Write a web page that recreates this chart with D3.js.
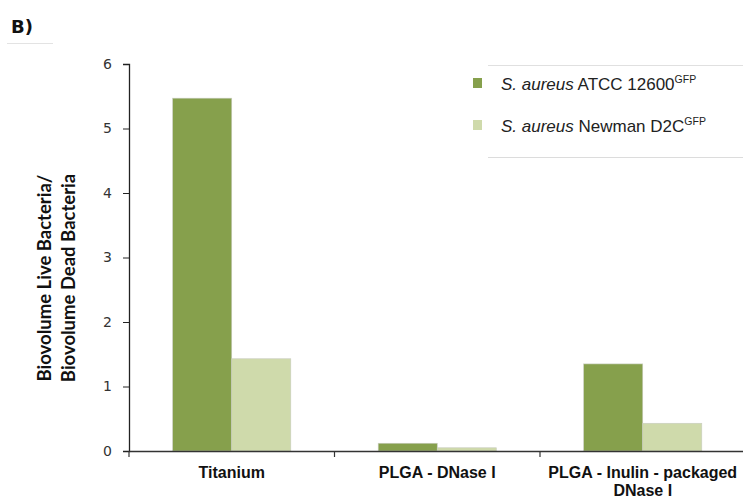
<!DOCTYPE html>
<html>
<head>
<meta charset="utf-8">
<script src="https://cdn.jsdelivr.net/npm/d3@7/dist/d3.min.js"></script>
<style>
  html, body { margin: 0; padding: 0; background: #fff; }
  svg { display: block; }
</style>
</head>
<body>
<svg id="chart" width="743" height="502"></svg>
<script>
// Biofilm live/dead biovolume ratio per surface, two S. aureus strains
const categories = ["Titanium", "PLGA - DNase I", "PLGA - Inulin - packaged DNase I"];
const categoryLines = [["Titanium"], ["PLGA - DNase I"], ["PLGA - Inulin - packaged", "DNase I"]];
const seriesKeys = ["atcc", "newman"];
const atccValues = [5.47, 0.12, 1.35];
const newmanValues = [1.43, 0.05, 0.43];
const yTicks = [0, 1, 2, 3, 4, 5, 6];

const colors = { atcc: "#86a04c", newman: "#cfdaab" };

const svg = d3.select("#chart");

const x = d3.scaleBand().domain(categories).range([129, 745.5]).paddingInner(0).paddingOuter(0);
const xs = d3.scaleBand().domain(seriesKeys).range([0, x.bandwidth()]).paddingInner(0).paddingOuter(0.74);
const y = d3.scaleLinear().domain([0, 6]).range([451, 64]);

const rows = categories.map((c, i) => ({ cat: c, atcc: atccValues[i], newman: newmanValues[i] }));

// panel label
svg.append("line").attr("x1", 7).attr("x2", 53).attr("y1", 43.5).attr("y2", 43.5)
  .attr("stroke", "#e3e3e3").attr("stroke-width", 1);
svg.append("text").attr("x", 11).attr("y", 33)
  .style("font-family", "DejaVu Sans, Verdana, sans-serif").style("font-weight", "bold")
  .style("font-size", "18px").attr("fill", "#111").text("B)");

// bars
const groups = svg.append("g").selectAll("g").data(rows).join("g")
  .attr("transform", d => `translate(${x(d.cat)},0)`);
groups.selectAll("rect").data(d => seriesKeys.map(k => ({ key: k, value: d[k] }))).join("rect")
  .attr("x", d => xs(d.key))
  .attr("width", xs.bandwidth())
  .attr("y", d => y(d.value))
  .attr("height", d => y(0) - y(d.value))
  .attr("fill", d => colors[d.key])
  .attr("stroke", "#c8ccbf").attr("stroke-width", 0.6);

// y axis
const yAxis = svg.append("g").attr("transform", "translate(129,0)")
  .call(d3.axisLeft(y).tickValues(yTicks).tickFormat(d3.format("d")).tickSize(6).tickPadding(11));
yAxis.select(".domain").attr("stroke", "#222").attr("stroke-width", 1.3);
yAxis.selectAll(".tick line").attr("stroke", "#222");
yAxis.selectAll(".tick text")
  .style("font-family", "DejaVu Sans, Verdana, sans-serif")
  .style("font-size", "14px").attr("fill", "#333");

// x axis: baseline with tick marks at category boundaries
const xAxis = svg.append("g").attr("transform", `translate(0,${y(0)})`)
  .call(d3.axisBottom(x).tickSize(0).tickFormat(""));
xAxis.select(".domain").attr("stroke", "#333").attr("stroke-width", 1.3);
xAxis.selectAll(".tick").remove();
xAxis.selectAll(".bnd").data(categories).join("line").attr("class", "bnd")
  .attr("x1", d => x(d)).attr("x2", d => x(d)).attr("y1", 0).attr("y2", 6)
  .attr("stroke", "#333").attr("stroke-width", 1.2);

// category labels
const lab = svg.append("g").selectAll("text").data(categories).join("text")
  .attr("x", d => x(d) + x.bandwidth() / 2)
  .attr("y", 478)
  .attr("text-anchor", "middle")
  .style("font-family", "Liberation Sans, Arial, sans-serif").style("font-weight", "bold")
  .style("font-size", "16px").attr("fill", "#111");
lab.selectAll("tspan").data((d, i) => categoryLines[i].map((t, j) => ({ t, j, cx: x(d) + x.bandwidth() / 2 })))
  .join("tspan").attr("x", d => d.cx).attr("dy", d => d.j === 0 ? 0 : 18).text(d => d.t);

// y axis title
const yt = svg.append("text").attr("transform", "translate(0,278) rotate(-90)")
  .attr("text-anchor", "middle")
  .style("font-family", "Lato, Carlito, sans-serif").style("font-weight", "bold")
  .style("font-size", "18.5px").attr("fill", "#111");
yt.append("tspan").attr("x", 0).attr("y", 51).text("Biovolume Live Bacteria/");
yt.append("tspan").attr("x", 0).attr("y", 75).text("Biovolume Dead Bacteria");

// legend
const legend = svg.append("g");
legend.append("line").attr("x1", 488).attr("x2", 743).attr("y1", 65.5).attr("y2", 65.5).attr("stroke", "#e0e0e0");
legend.append("line").attr("x1", 488).attr("x2", 743).attr("y1", 157.5).attr("y2", 157.5).attr("stroke", "#dcdcdc");
const legendItems = [
  { key: "atcc", name: "ATCC 12600", y: 90 },
  { key: "newman", name: "Newman D2C", y: 132 }
];
legendItems.forEach(it => {
  legend.append("rect").attr("x", 473).attr("y", it.y - 12).attr("width", 9).attr("height", 10)
    .attr("fill", colors[it.key]);
  const t = legend.append("text").attr("x", 501).attr("y", it.y)
    .style("font-family", "Liberation Sans, Arial, sans-serif").style("font-size", "17px").attr("fill", "#222");
  t.append("tspan").style("font-style", "italic").text("S. aureus");
  t.append("tspan").text(" " + it.name);
  t.append("tspan").style("font-size", "10.5px").attr("dy", -7).text("GFP");
});
</script>
</body>
</html>
